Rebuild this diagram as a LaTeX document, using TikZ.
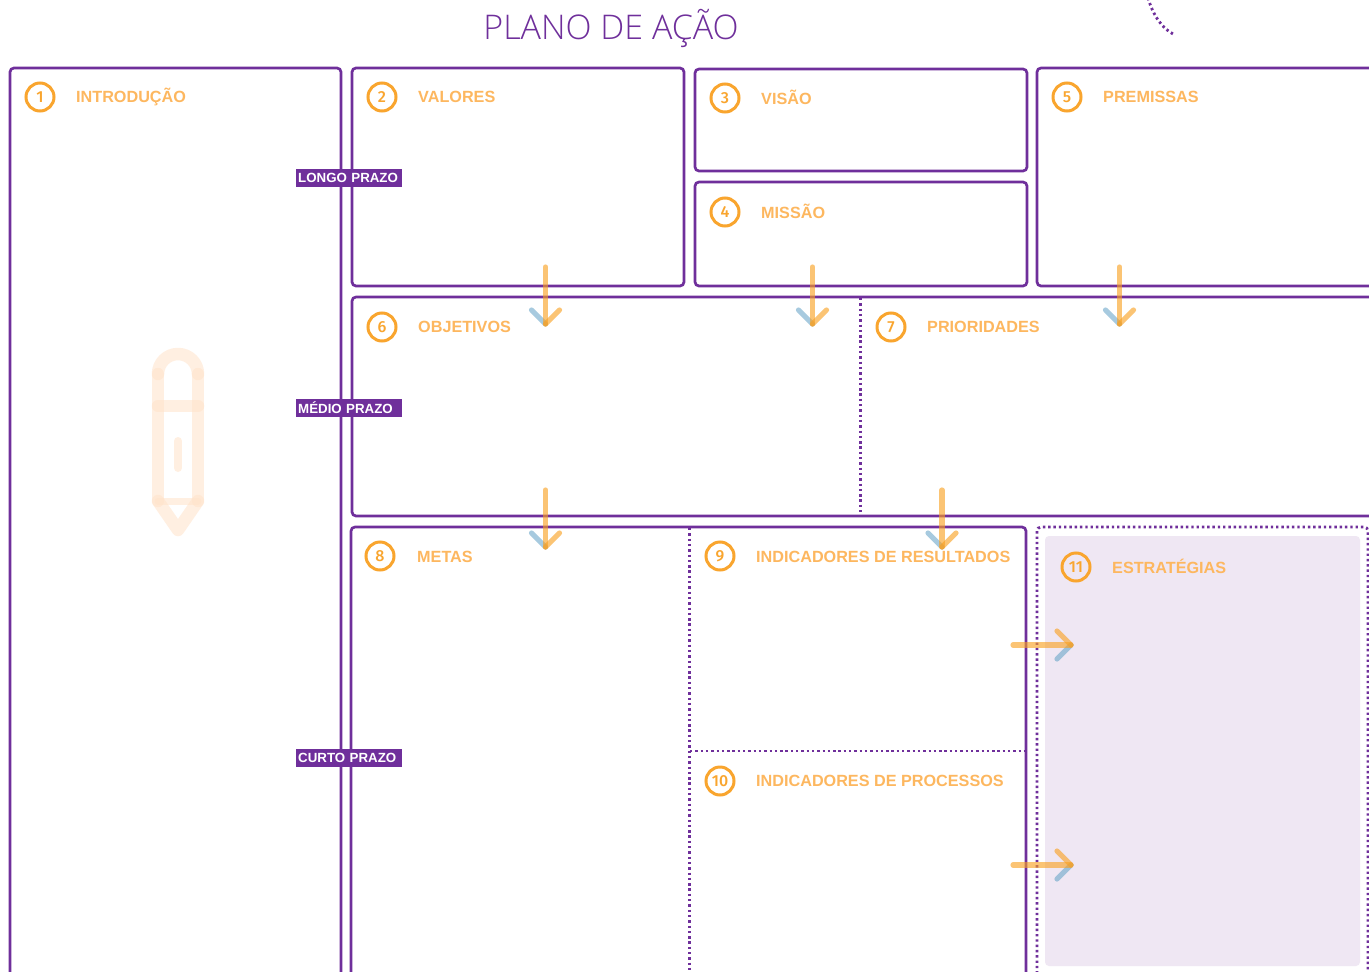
\documentclass[tikz,border=0pt]{standalone}
\usepackage{fontspec}
\setmainfont{Liberation Sans}
\newfontfamily\titlefont{Open Sans Light}
\newfontfamily\badgefont{Fira Sans Medium}
\definecolor{roxo}{HTML}{6F2F9B}
\definecolor{laranja}{HTML}{F9A52E}
\definecolor{rotulo}{HTML}{FDB75F}
\definecolor{seta}{HTML}{F9A020}
\definecolor{azul}{HTML}{5FA0C5}
\definecolor{lilas}{HTML}{EFE7F3}
\definecolor{lapis}{HTML}{FFE3CA}

\begin{document}
\begin{tikzpicture}[x=1pt,y=-1pt]
    \tikzstyle{frame}=[line width=2.7pt,draw=roxo,rounded corners=4pt]
    \tikzstyle{divider}=[line width=2.8pt,draw=roxo,dash pattern=on 2.4pt off 2.9pt]
    \tikzstyle{badge}=[circle,draw=laranja,line width=3pt,minimum size=28pt,inner sep=0pt,text=laranja,font=\badgefont\fontsize{16}{18}\selectfont]
    \tikzstyle{label}=[anchor=west,inner sep=0pt,text=rotulo,font=\bfseries\fontsize{16.2}{18}\selectfont]
    \tikzstyle{term}=[fill=roxo,text=white,minimum height=18pt,text width=102pt,inner xsep=2pt,inner ysep=0pt,anchor=west,font=\bfseries\fontsize{13.3}{15}\selectfont]
    \tikzstyle{shaft}=[line width=5.2pt,line cap=round,draw=seta,opacity=.62]
    \tikzstyle{tiporange}=[line width=5.2pt,line cap=round,draw=seta,opacity=.62]
    \tikzstyle{tipblue}=[line width=5.2pt,line cap=round,draw=azul,opacity=.55]
    \tikzstyle{pencil}=[line width=12.5pt,line cap=round,line join=round,draw=lapis,opacity=.55]
    \clip (0,0) rectangle (1369,972);
    \fill[white] (0,0) rectangle (1369,972);

    \node (title) at (611,28) [text=roxo,font=\titlefont\fontsize{34}{40}\selectfont]{PLANO DE AÇÃO};
    \draw[divider] (1148,-2) .. controls (1153,15) and (1162,29) .. (1175,35);

    % estrategias goes under the frames
    \fill[lilas,rounded corners=4pt] (1045,536) rectangle (1360,966);

    \draw[frame] (10,68) rectangle (341,1000);
    \draw[frame] (352,68) rectangle (684,286);
    \draw[frame] (695,69) rectangle (1027,171);
    \draw[frame] (695,182) rectangle (1027,286);
    \draw[frame] (1037,68) rectangle (1380,286);
    \draw[frame] (352,297) rectangle (1380,516);
    \draw[frame] (351,527) rectangle (1026,1000);
    \draw[divider,rounded corners=4pt] (1037,1000) -- (1037,527) -- (1368,527) -- (1368,1000);
    \draw[divider] (860.5,298) -- (860.5,515);
    \draw[divider] (689.5,528) -- (689.5,1000);
    \draw[divider] (690,751) -- (1025,751);

    \node[badge] (b1) at (40,97){1};
    \node[label] (l1) at (76,97){INTRODUÇÃO};
    \node[badge] (b2) at (382,97){2};
    \node[label] (l2) at (418,97){VALORES};
    \node[badge] (b3) at (725,98){3};
    \node[label] (l3) at (761,97.5){VISÃO};
    \node[badge] (b4) at (725,212){4};
    \node[label] (l4) at (761,211.5){MISSÃO};
    \node[badge] (b5) at (1067,97){5};
    \node[label] (l5) at (1103,97){PREMISSAS};
    \node[badge] (b6) at (382,327){6};
    \node[label] (l6) at (418,327){OBJETIVOS};
    \node[badge] (b7) at (891,327){7};
    \node[label] (l7) at (927,327){PRIORIDADES};
    \node[badge] (b8) at (380,556){8};
    \node[label] (l8) at (417,557){METAS};
    \node[badge] (b9) at (720,556){9};
    \node[label] (l9) at (756,557){INDICADORES DE RESULTADOS};
    \node[badge] (b10) at (720,781){10};
    \node[label] (l10) at (756,781){INDICADORES DE PROCESSOS};
    \node[badge] (b11) at (1076,567){11};
    \node[label] (l11) at (1112,566.5){ESTRATÉGIAS};

    \node[term] (longo) at (296,178){LONGO PRAZO};
    \node[term] (medio) at (296,408){MÉDIO PRAZO};
    \node[term] (curto) at (296,758){CURTO PRAZO};

    % pencil
    \draw[pencil] (158,374) -- (158,501);
    \draw[pencil] (198,374) -- (198,501);
    \draw[pencil] (158,374) arc[start angle=180,end angle=0,radius=20pt];
    \draw[pencil] (158,406) -- (198,406);
    \draw[pencil,line width=8pt] (178,441) -- (178,468);
    \draw[pencil,line width=7pt] (158,501) -- (198,501);
    \draw[pencil] (158,501) -- (178,530) -- (198,501);

    % arrows down
    \foreach \name/\px/\py in {a/545.5/267,b/812.5/267,c/1119.5/267,d/545.5/490,e/942/490}{
      \coordinate (\name s) at (\px,\py);
      \coordinate (\name t) at (\px,\py+57);
      \draw[tipblue] (\name t) -- ++(-14,-14);
      \draw[shaft] (\name s) -- (\name t);
      \draw[tiporange] (\name t) -- ++(14,-14);
    }
    % arrows to the right
    \foreach \name/\py in {f/645,g/865}{
      \coordinate (\name s) at (1013,\py);
      \coordinate (\name t) at (1071,\py);
      \draw[tipblue] (\name t) -- ++(-14,14);
      \draw[shaft] (\name s) -- (\name t);
      \draw[tiporange] (\name t) -- ++(-14,-14);
    }
\end{tikzpicture}
\end{document}
